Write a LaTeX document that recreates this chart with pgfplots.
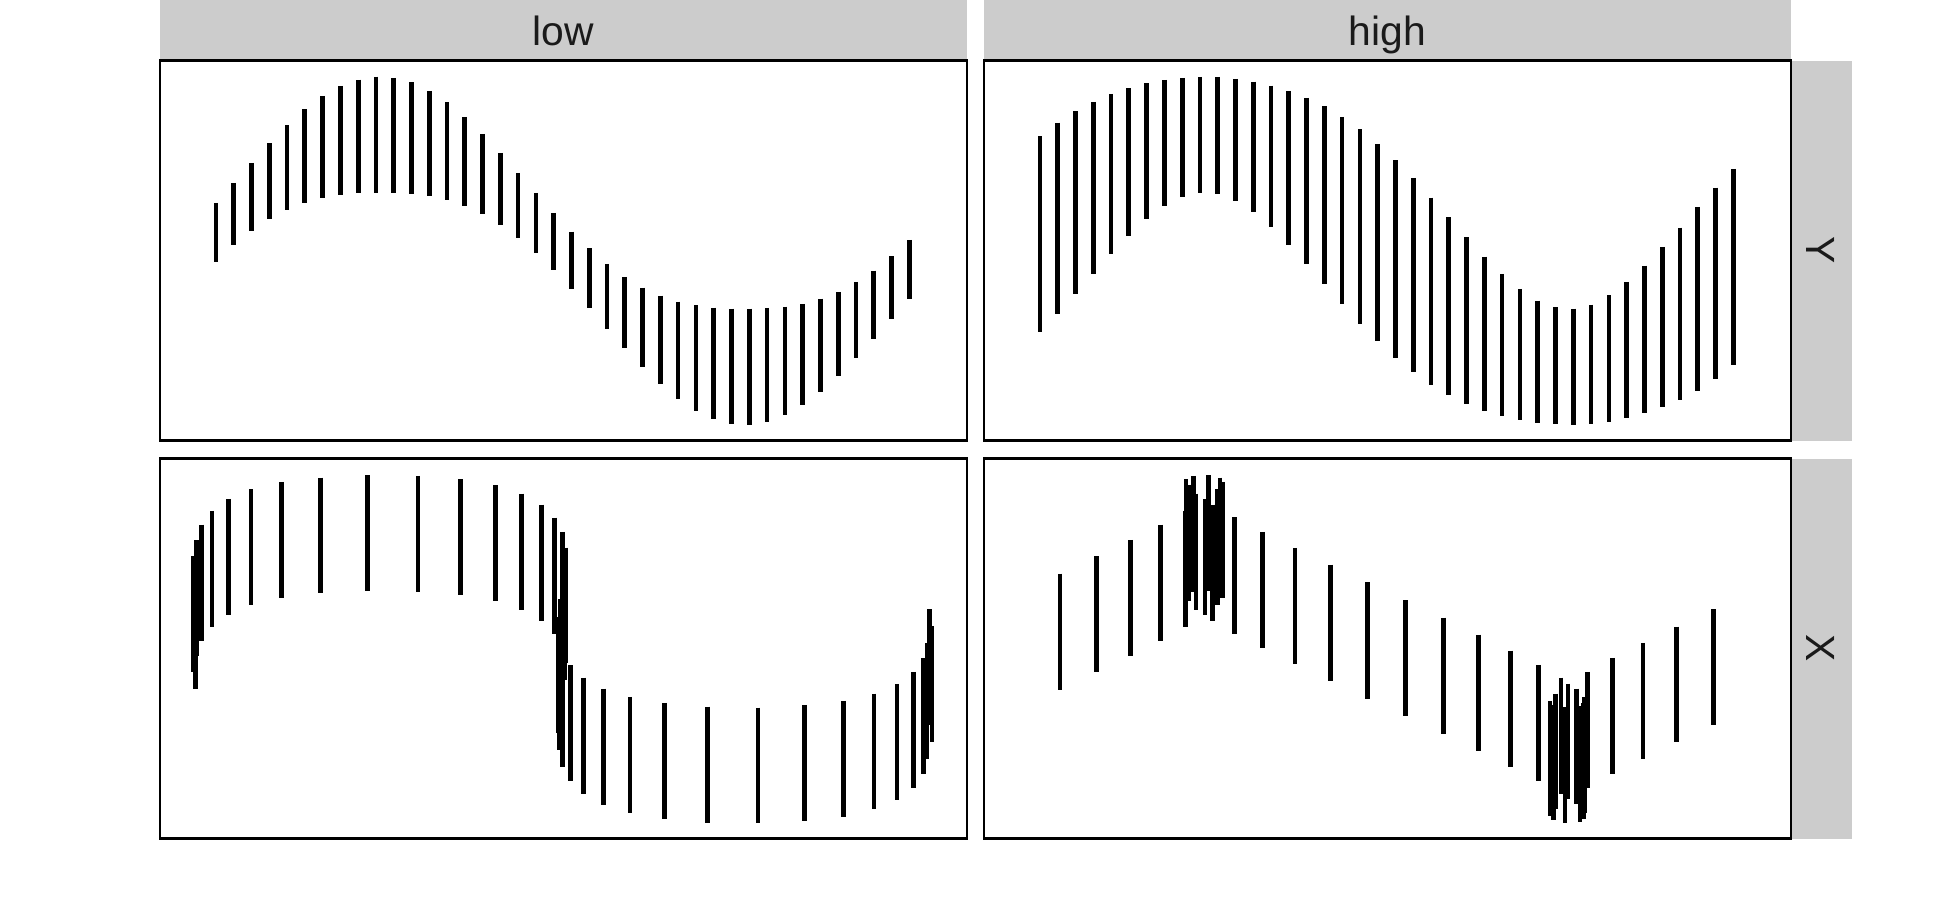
\documentclass[border=0pt]{standalone}
\usepackage{pgfplots}
\pgfplotsset{compat=1.18}
\usepackage{pgfplotstable}
\usepackage{fontspec}
\setmainfont{Liberation Sans}
\definecolor{stripgrey}{HTML}{CCCCCC}
\definecolor{striptext}{HTML}{1A1A1A}

% Values: x position, top and bottom end of each range
% (panel pixel units, 3x, y measured downward)
\pgfplotstableread{
x top bot
168 430 606
221 370 556
274 310 515
328 251 478
381 197 450
434 149 429
487 109 414
541 79 406
595 60 401
648 51 400
701 55 400
755 68 403
808 94 409
861 128 421
914 172 438
967 223 463
1021 280 495
1074 340 535
1128 400 580
1181 460 632
1235 516 688
1288 566 746
1341 613 807
1394 652 866
1447 684 922
1501 708 974
1554 726 1018
1608 737 1053
1661 744 1077
1714 747 1092
1768 747 1095
1821 745 1086
1875 741 1066
1928 733 1036
1981 717 997
2035 697 950
2088 667 895
2141 633 837
2194 590 777
2248 541 717
}\lowY

\pgfplotstableread{
x top bot
168 230 818
221 189 763
274 155 704
328 127 644
381 103 584
434 86 529
487 71 479
541 61 439
595 55 412
648 52 400
701 52 404
755 58 425
808 66 458
861 78 503
914 94 556
967 115 614
1021 140 674
1074 172 734
1128 209 792
1181 253 845
1235 302 895
1288 355 938
1341 414 976
1394 473 1007
1447 533 1032
1501 591 1053
1554 643 1069
1608 688 1081
1661 723 1089
1714 743 1094
1768 747 1096
1821 735 1093
1875 707 1086
1928 667 1076
1981 618 1061
2035 562 1043
2088 504 1021
2141 442 993
2194 384 958
2248 328 917
}\highY

\pgfplotstableread{
x top bot
106 354 702
100 303 650
109 255 603
125 208 556
156 167 515
205 131 479
273 102 450
365 80 428
481 67 413
622 60 408
774 62 410
902 72 420
1006 90 438
1085 115 463
1145 148 496
1183 187 535
1207 230 577
1218 277 624
1214 326 674
1209 379 727
1200 432 780
1195 485 833
1198 537 885
1207 588 935
1232 630 977
1271 667 1015
1330 700 1048
1410 725 1073
1513 743 1091
1642 754 1102
1794 757 1104
1934 749 1097
2050 737 1084
2142 715 1062
2211 686 1033
2260 650 998
2290 608 956
2301 563 910
2316 513 860
2308 462 808
}\lowX

\pgfplotstableread{
x top bot
228 355 703
338 303 651
440 254 602
530 208 556
604 167 515
663 130 480
701 100 450
716 80 428
708 67 415
629 62 410
673 60 408
606 72 420
613 88 436
636 115 463
685 148 496
752 186 535
836 230 578
933 278 626
1039 328 677
1151 381 730
1265 435 782
1378 487 835
1484 538 886
1580 586 934
1664 629 977
1731 667 1015
1778 700 1047
1801 725 1072
1798 742 1090
1788 752 1100
1743 755 1103
1708 748 1095
1698 737 1083
1714 715 1062
1752 685 1030
1810 650 998
1886 608 956
1977 563 910
2078 514 861
2188 462 809
}\highX

\pgfplotsset{
  panel/.style={
    scale only axis, width=201.75bp, height=95bp, anchor=north west,
    xmin=0, xmax=2421, y dir=reverse,
    xtick=\empty, ytick=\empty,
    axis line style={line width=0.6bp, black},
  },
  toprow/.style={ymin=3, ymax=1143},
  botrow/.style={ymin=10, ymax=1150},
  lr/.style={draw=none, mark=none, forget plot,
    error bars/.cd, y dir=plus, y explicit, error mark=none,
    error bar style={draw=black, line width=1.1bp, line cap=butt}},
}

\begin{document}
\begin{tikzpicture}
\fontsize{10.2bp}{12bp}\selectfont
% page extent
\path (0,0) rectangle (487.5bp,-225bp);
% top strips
\fill[stripgrey] (40bp,0) rectangle (241.75bp,-15.125bp);
\fill[stripgrey] (246bp,0) rectangle (447.75bp,-15.125bp);
\node[anchor=base, text=striptext, inner sep=0] at (140.875bp,-11.25bp) {low};
\node[anchor=base, text=striptext, inner sep=0] at (346.875bp,-11.25bp) {high};
% right strips
\fill[stripgrey] (447.75bp,-15.125bp) rectangle (462.875bp,-110.125bp);
\fill[stripgrey] (447.75bp,-114.625bp) rectangle (462.875bp,-209.625bp);
\node[anchor=base, rotate=-90, text=striptext, inner sep=0] at (451.6bp,-62.625bp) {Y};
\node[anchor=base, rotate=-90, text=striptext, inner sep=0] at (451.6bp,-162.125bp) {X};

\begin{axis}[panel, toprow, at={(40bp,-15.125bp)}]
\addplot[lr] table[x=x, y=top, y error expr=\thisrow{bot}-\thisrow{top}] {\lowY};
\end{axis}
\begin{axis}[panel, toprow, at={(246bp,-15.125bp)}]
\addplot[lr] table[x=x, y=top, y error expr=\thisrow{bot}-\thisrow{top}] {\highY};
\end{axis}
\begin{axis}[panel, botrow, at={(40bp,-114.625bp)}]
\addplot[lr] table[x=x, y=top, y error expr=\thisrow{bot}-\thisrow{top}] {\lowX};
\end{axis}
\begin{axis}[panel, botrow, at={(246bp,-114.625bp)}]
\addplot[lr] table[x=x, y=top, y error expr=\thisrow{bot}-\thisrow{top}] {\highX};
\end{axis}
\end{tikzpicture}
\end{document}
